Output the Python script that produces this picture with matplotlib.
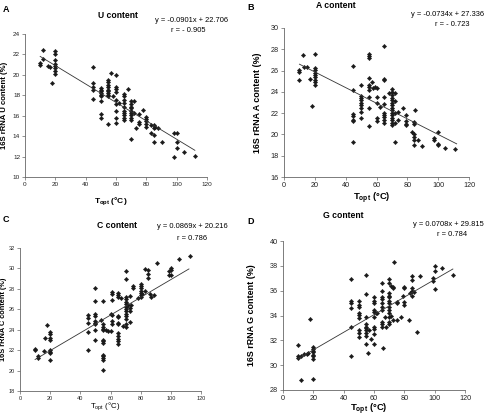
import numpy as np
import matplotlib
matplotlib.use("Agg")
import matplotlib.pyplot as plt

plt.rcParams['font.family'] = ['Liberation Sans', 'DejaVu Sans']
plt.rcParams['mathtext.fontset'] = 'custom'
plt.rcParams['mathtext.rm'] = 'Liberation Sans'
plt.rcParams['mathtext.bf'] = 'Liberation Sans:bold'

# ---- data ----
u_t = [10, 10, 12, 12, 15, 16.5, 18, 20, 20, 20, 20, 20, 20, 20, 20,
       45, 45, 45, 45, 45,
       50, 50, 50, 50, 50, 50, 50, 50, 50,
       55, 55, 55, 55, 55, 55, 55, 55, 55, 55,
       57, 58,
       60, 60, 60, 60, 60, 60, 60, 60, 60,
       62,
       65, 65, 65, 65, 65, 65, 65, 65, 65, 65,
       68,
       70, 70, 70, 70, 70, 70, 70, 70, 70, 70,
       72, 72, 73, 75, 75, 75, 78,
       80, 80, 80, 80, 80,
       83, 83, 85, 85, 85, 85, 86, 88, 90,
       98, 98, 100, 100, 100, 105, 112]
u_val = [21.2, 21.0, 22.4, 21.6, 20.9, 20.8, 19.2, 22.3, 22.0, 21.5, 21.1, 20.9, 20.7, 20.4, 20.1,
         20.75, 19.2, 18.8, 18.5, 17.6,
         18.7, 18.5, 18.4, 18.2, 18.0, 17.9, 17.4, 16.2, 15.8,
         19.5, 19.3, 19.0, 18.8, 18.5, 18.4, 18.2, 18.0, 17.9, 15.2,
         20.2, 17.9,
         20.0, 18.8, 18.6, 18.3, 17.5, 17.1, 16.5, 15.8, 15.3,
         17.2,
         18.1, 17.9, 17.5, 17.2, 16.9, 16.5, 16.3, 16.1, 15.8, 15.6,
         18.6,
         17.4, 17.1, 16.9, 16.8, 16.5, 16.3, 16.1, 15.8, 15.6, 13.7,
         17.4, 16.3, 14.8, 16.2, 15.4, 15.2, 16.6,
         15.9, 15.7, 15.5, 15.2, 14.9,
         15.1, 14.3, 15.1, 14.8, 14.1, 13.4, 14.9, 14.8, 13.4,
         14.3, 12.0, 14.3, 13.4, 12.8, 12.4, 12.1]

a_t = [10, 10, 10, 12.3, 13, 15, 16.8, 18.3,
       20, 20, 20, 20, 20, 20, 20, 20, 20,
       45, 45, 45, 45, 45, 45, 45,
       50, 50, 50, 50, 50, 50, 50, 50, 50,
       55, 55, 55, 55, 55, 55, 55, 55, 55, 55,
       57, 58, 59, 60, 60, 60, 60, 60, 62,
       65, 65, 65, 65, 65, 65, 65, 65, 65, 65,
       68,
       70, 70, 70, 70, 70, 70, 70, 70, 70, 70, 70, 70, 70, 70, 70,
       72, 72, 72, 72, 72, 74, 74, 77,
       79, 79, 79, 79,
       83, 84, 84, 84, 84, 84, 84, 85, 87, 89.5,
       97, 97, 100, 100, 100, 104.5, 111]
a_val = [26.05, 25.9, 25.1, 27.45, 26.3, 26.3, 25.2, 22.7,
         27.6, 26.2, 26.05, 25.8, 25.6, 25.4, 25.1, 24.9, 24.6,
         26.4, 24.2, 21.9, 21.7, 21.4, 21.3, 19.3,
         24.6, 23.6, 23.45, 23.2, 23.0, 22.8, 22.45, 22.1, 21.5,
         27.6, 27.4, 27.2, 25.3, 24.65, 24.5, 24.2, 23.5, 22.45, 20.8,
         24.9, 24.4, 24.5, 24.4, 23.55, 23.0, 21.5, 21.3, 22.6,
         28.3, 25.25, 25.1, 23.5, 22.9, 22.0, 21.85, 21.6, 21.4, 21.1,
         23.85,
         24.3, 23.99, 23.7, 23.45, 23.2, 23.0, 22.75, 22.5, 22.3, 22.05, 21.8, 21.55, 21.35, 21.1, 20.9,
         23.85, 23.1, 22.05, 21.1, 19.3, 22.1, 21.35, 22.5,
         21.8, 21.3, 20.9, 21.0,
         20.25, 21.2, 21.0, 20.05, 19.8, 19.5, 19.0, 22.3, 19.5, 18.95,
         19.7, 19.5, 20.2, 19.1, 19.0, 18.75, 18.65]

c_t = [10, 10, 12, 12, 15.6, 16.7, 18.2,
       20, 20, 20, 20, 20, 20, 20, 20,
       45, 45, 45, 45, 45,
       50, 50, 50, 50, 50, 50, 50, 50, 50,
       54,
       55, 55, 55, 55, 55, 55, 55, 55, 55, 55, 55, 55, 55,
       57, 58.5, 60, 60,
       61, 61, 61, 61, 61, 61,
       65, 65, 65, 65, 65, 65, 65, 65, 65, 65, 65, 65,
       67, 68,
       70, 70, 70, 70, 70, 70, 70, 70, 70, 70, 70, 70, 70, 70,
       71.8, 72.7, 72.7, 72.7, 72.7, 73.4,
       75, 75, 78.5,
       80, 80, 80, 80, 80, 80, 80,
       81, 83, 83, 85, 85, 85, 86, 87, 89, 90.5,
       98.5, 98.5, 100, 100, 100, 105.5, 112.5]
c_val = [22.16, 22.0, 21.4, 21.25, 21.9, 23.2, 24.5,
         23.76, 23.6, 23.2, 23.0, 22.06, 21.84, 21.7, 21.04,
         25.4, 25.1, 24.66, 23.76, 22.06,
         28.1, 26.8, 25.5, 25.35, 24.9, 24.7, 24.6, 24.0, 22.96,
         24.95,
         26.8, 24.56, 24.3, 24.1, 24.0, 23.0, 22.9, 22.7, 21.5, 21.4, 21.2, 21.0, 20.1,
         23.95, 23.9, 23.85, 25.5,
         27.7, 27.45, 26.9, 25.46, 24.9, 24.6,
         27.6, 27.4, 27.2, 25.37, 25.2, 24.7, 24.56, 23.67, 23.35, 23.1, 22.9, 22.65,
         27.06, 24.4,
         29.75, 29.0, 27.2, 27.0, 26.7, 26.5, 26.2, 26.0, 25.8, 25.5, 25.3, 25.05, 24.56, 24.3,
         26.4, 27.3, 26.1, 25.85, 24.8, 26.4,
         28.25, 28.1, 27.06,
         28.47, 28.25, 28.1, 27.83, 27.6, 27.4, 27.2,
         27.5, 29.95, 27.8, 29.85, 29.5, 29.05, 27.5, 27.2, 27.4, 30.5,
         29.75, 29.4, 30.06, 29.85, 29.4, 30.9, 31.2]

g_t = [10, 10, 10, 12, 12, 14, 15.5, 16.8, 18,
       20, 20, 20, 20, 20, 20, 20, 20,
       45, 45, 45, 45, 45, 45,
       50, 50, 50, 50, 50, 50, 50, 50, 50,
       55, 55, 55, 55, 55, 55, 55, 55, 55, 55,
       56, 57, 58,
       60, 60, 60, 60, 60, 60, 60, 60, 60, 60,
       61.3, 62.2,
       65, 65, 65, 65, 65, 65, 65, 65, 65, 65, 65.7,
       67, 68,
       70, 70, 70, 70, 70, 70, 70, 70, 70, 70, 70, 70, 70,
       71, 71, 72.3, 72.7, 72.7, 73,
       75, 75, 75, 78, 79.3,
       80, 80, 80, 80,
       83, 84, 85, 85, 85, 85, 85, 86.4,
       88.6, 90.3, 98.7, 98.7, 100, 100, 100, 105, 112]
g_val = [31.6, 30.7, 30.6, 30.76, 28.84, 30.87, 30.9, 31.0, 33.7,
         31.47, 31.3, 31.16, 31.03, 30.84, 30.7, 30.5, 28.87,
         36.95, 35.2, 35.0, 34.6, 33.1, 30.7,
         35.16, 34.84, 34.7, 34.2, 34.05, 33.8, 32.8, 32.6, 32.3,
         37.26, 35.7, 33.84, 33.3, 33.1, 33.0, 32.8, 32.6, 32.34, 31.7,
         31.0, 32.8, 32.1,
         35.45, 35.2, 34.97, 34.45, 34.3, 33.9, 33.1, 32.9, 32.5, 31.7,
         34.2, 34.2,
         36.6, 36.0, 35.5, 35.3, 34.97, 34.7, 34.45, 33.5, 33.34, 33.1, 31.35,
         33.9, 33.1,
         36.9, 36.6, 35.8, 35.6, 35.45, 35.2, 34.97, 34.7, 34.45, 34.2, 33.9, 33.5, 33.3,
         36.4, 34.0, 36.3, 36.2, 33.6, 38.3,
         33.6, 35.1, 35.0, 33.9, 35.55,
         36.3, 36.2, 35.1, 34.85,
         33.6, 35.8, 37.2, 36.85, 36.2, 36.0, 35.6, 35.9,
         32.7, 37.2, 37.0, 36.75, 38.0, 37.55, 36.1, 37.8, 37.3]

slopes = [-0.0901, -0.0734, 0.0869, 0.0708]
intercepts = [22.706, 27.336, 20.216, 29.815]
r_text = ['r = - 0.905', 'r = - 0.723', 'r = 0.786', 'r = 0.784']
titles = ['U content', 'A content', 'C content', 'G content']
letters = ['A', 'B', 'C', 'D']
bases = ['U', 'A', 'C', 'G']
ylims = [(10, 24), (16, 30), (18, 32), (28, 40)]
fit_range = (10, 112)

fig = plt.figure(figsize=(4.86, 4.2), dpi=100)
W, H = 486.0, 420.0

def px(l, t, r, b):
    return [l / W, 1 - b / H, (r - l) / W, (b - t) / H]

# axes boxes in pixels (left, top, right, bottom)
boxes = [(25, 34, 207, 177), (284, 28, 469, 177), (20, 248, 201, 391), (283, 241, 465, 390)]
tick_fs = [4.6, 5.2, 4.0, 5.2]
lab_fs = [5.6, 6.4, 5.3, 6.4]
xlab_fs = [6.0, 6.8, 5.6, 6.8]
xlab_bold = [True, True, False, True]
data = [(u_t, u_val), (a_t, a_val), (c_t, c_val), (g_t, g_val)]

# text anchor positions in pixels
letter_xy = [(3, 9), (247, 8), (3, 220), (247, 222)]
title_xy = [(118, 15), (336, 5), (117, 225), (343, 216)]
eq_xy = [(228, 20), (484, 15), (228, 227), (484, 225)]
r_xy = [(188, 31), (452, 25), (192, 238), (452, 235)]
ylab_x = [5, 257, 4, 252]
xlab_y = [201, 198, 407, 409]

for i in range(4):
    ax = fig.add_axes(px(*boxes[i]))
    t, v = data[i]
    ax.plot(t, v, linestyle='none', marker='D', markersize=2.2,
            color='#1a1a1a', markeredgewidth=0.3)
    xs = np.array(fit_range)
    ax.plot(xs, slopes[i] * xs + intercepts[i], color='#333333', lw=0.6)
    ax.set_xlim(0, 120)
    ax.set_ylim(*ylims[i])
    ax.set_xticks(range(0, 121, 20))
    ax.set_yticks(range(ylims[i][0], ylims[i][1] + 1, 2))
    for s in ['top', 'right']:
        ax.spines[s].set_visible(False)
    for s in ['left', 'bottom']:
        ax.spines[s].set_color('#666666')
        ax.spines[s].set_linewidth(0.6)
    ax.tick_params(direction='out', length=2, width=0.5, colors='#666666',
                   labelcolor='#222222', labelsize=tick_fs[i], pad=1.5)

    l, tp, r, b = boxes[i]
    cy = (tp + b) / 2
    fig.text(ylab_x[i] / W, 1 - cy / H, f'16S rRNA {bases[i]} content (%)',
             rotation=90, ha='center', va='center', fontsize=lab_fs[i],
             fontweight='bold')
    if xlab_bold[i]:
        xl = r'$\mathbf{T_{opt}}$ $\mathbf{(°C)}$'
    else:
        xl = r'T$_{\mathrm{opt}}$ (°C)'
    fig.text(((l + r) / 2 - 5) / W, 1 - xlab_y[i] / H, xl, ha='center',
             va='center', fontsize=xlab_fs[i])
    fig.text(letter_xy[i][0] / W, 1 - letter_xy[i][1] / H, letters[i],
             ha='left', va='center', fontsize=6.5, fontweight='bold')
    fig.text(title_xy[i][0] / W, 1 - title_xy[i][1] / H, titles[i],
             ha='center', va='center', fontsize=6.2, fontweight='bold')
    sign = '-' if intercepts[i] < 0 else '+'
    eq = f'y = {slopes[i]:.4f}x {sign} {abs(intercepts[i]):.3f}'
    fig.text(eq_xy[i][0] / W, 1 - eq_xy[i][1] / H, eq, ha='right',
             va='center', fontsize=5.4)
    fig.text(r_xy[i][0] / W, 1 - r_xy[i][1] / H, r_text[i], ha='center',
             va='center', fontsize=5.4)

fig.savefig('out.png', dpi=100)
